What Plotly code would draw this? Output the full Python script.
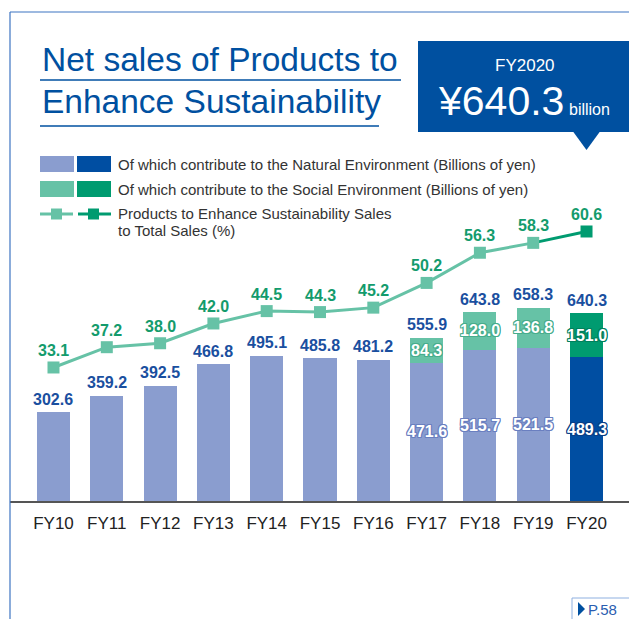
import plotly.graph_objects as go

# ---------------- data ----------------
years = ["FY10", "FY11", "FY12", "FY13", "FY14", "FY15", "FY16", "FY17", "FY18", "FY19", "FY20"]
natural = [302.6, 359.2, 392.5, 466.8, 495.1, 485.8, 481.2, 471.6, 515.7, 521.5, 489.3]
social = [None, None, None, None, None, None, None, 84.3, 128.0, 136.8, 151.0]
totals = [302.6, 359.2, 392.5, 466.8, 495.1, 485.8, 481.2, 555.9, 643.8, 658.3, 640.3]
pct = [33.1, 37.2, 38.0, 42.0, 44.5, 44.3, 45.2, 50.2, 56.3, 58.3, 60.6]

# ---------------- style ----------------
W, H = 629, 619
PL, PR, PT, PB = 10, 629, 140, 501
BLUE = "#0050a0"
NAT_L, NAT_D = "#8a9dcf", "#004ea2"
SOC_L, SOC_D = "#66c2a6", "#009b70"
LBL_BLUE = "#1a4f9f"
LBL_GREEN = "#139b6c"
FRAME = "#3d74c2"
SANS = "Liberation Sans, Arial, sans-serif"

n = len(years)
xs = list(range(n))
hl = n - 1  # highlighted (latest) year


def px(x):
    return (x - PL) / (PR - PL)


def py(y):
    return (PB - y) / (PB - PT)


def outline(c):
    return ", ".join(f"{a}px {b}px 0 {c}" for a in (-1, 0, 1) for b in (-1, 0, 1) if a or b)


fig = go.Figure()

fig.add_bar(x=xs, y=natural, width=0.62,
            marker=dict(color=[NAT_D if i == hl else NAT_L for i in xs], line_width=0),
            hoverinfo="skip")
fig.add_bar(x=xs, y=social, width=0.62,
            marker=dict(color=[SOC_D if i == hl else SOC_L for i in xs], line_width=0),
            hoverinfo="skip")

# percentage line
fig.add_scatter(x=xs[hl - 1:], y=pct[hl - 1:], yaxis="y2", mode="lines",
                line=dict(color=SOC_D, width=3), hoverinfo="skip")
fig.add_scatter(x=xs[:hl], y=pct[:hl], yaxis="y2", mode="lines+markers",
                line=dict(color=SOC_L, width=3),
                marker=dict(symbol="square", size=12, color=SOC_L), hoverinfo="skip")
fig.add_scatter(x=xs[hl:], y=pct[hl:], yaxis="y2", mode="markers",
                marker=dict(symbol="square", size=12, color=SOC_D), hoverinfo="skip")

ann = []
for i in xs:
    ann.append(dict(x=i, y=totals[i], xref="x", yref="y", yshift=13, showarrow=False,
                    text=f"{totals[i]:.1f}", font=dict(family=SANS, size=16, color=LBL_BLUE, weight="bold")))
    ann.append(dict(x=i, y=pct[i], xref="x", yref="y2", yshift=17, showarrow=False,
                    text=f"{pct[i]:.1f}", font=dict(family=SANS, size=16, color=LBL_GREEN, weight="bold")))
    if social[i] is not None:
        nc = "#0a3f86" if i == hl else "#6a7fc0"
        sc = "#00805c" if i == hl else "#47ad8c"
        ann.append(dict(x=i, y=natural[i] / 2, xref="x", yref="y", showarrow=False,
                        text=f"{natural[i]:.1f}",
                        font=dict(family=SANS, size=16, color="white", weight="bold", shadow=outline(nc))))
        ann.append(dict(x=i, y=natural[i] + social[i] / 2, xref="x", yref="y", showarrow=False,
                        text=f"{social[i]:.1f}",
                        font=dict(family=SANS, size=16, color="white", weight="bold", shadow=outline(sc))))

# title
ann.append(dict(x=px(40), y=py(60), xref="paper", yref="paper", xanchor="left", yanchor="middle",
                showarrow=False, text="Net sales of Products to", font=dict(family=SANS, size=33.5, color=BLUE)))
ann.append(dict(x=px(40), y=py(102), xref="paper", yref="paper", xanchor="left", yanchor="middle",
                showarrow=False, text="Enhance Sustainability", font=dict(family=SANS, size=33.5, color=BLUE)))

# highlight box texts
ann.append(dict(x=px(525), y=py(65), xref="paper", yref="paper", xanchor="center", yanchor="middle",
                showarrow=False, text="FY2020", font=dict(family=SANS, size=17, color="white")))
ann.append(dict(x=px(566), y=py(101), xref="paper", yref="paper", xanchor="right", yanchor="middle",
                showarrow=False, text="¥640.3", font=dict(family=SANS, size=41, color="white")))
ann.append(dict(x=px(567), y=py(110), xref="paper", yref="paper", xanchor="left", yanchor="middle",
                showarrow=False, text="billion", font=dict(family=SANS, size=16, color="white")))

# legend texts
leg_font = dict(family=SANS, size=15, color="#333333")
ann.append(dict(x=px(116), y=py(164), xref="paper", yref="paper", xanchor="left", yanchor="middle", showarrow=False,
                text="Of which contribute to the Natural Environment (Billions of yen)", font=leg_font))
ann.append(dict(x=px(116), y=py(189), xref="paper", yref="paper", xanchor="left", yanchor="middle", showarrow=False,
                text="Of which contribute to the Social Environment (Billions of yen)", font=leg_font))
ann.append(dict(x=px(116), y=py(213), xref="paper", yref="paper", xanchor="left", yanchor="middle", showarrow=False,
                text="Products to Enhance Sustainability Sales", font=leg_font))
ann.append(dict(x=px(116), y=py(230), xref="paper", yref="paper", xanchor="left", yanchor="middle", showarrow=False,
                text="to Total Sales (%)", font=leg_font))

# page reference
ann.append(dict(x=px(586), y=py(609), xref="paper", yref="paper", xanchor="left", yanchor="middle", showarrow=False,
                text="P.58", font=dict(family=SANS, size=15, color="#2a5db0")))


def rect(x0, y0, x1, y1, fill, line=None, lw=0):
    return dict(type="rect", xref="paper", yref="paper", x0=px(x0), x1=px(x1), y0=py(y0), y1=py(y1),
                fillcolor=fill, line=dict(color=line or fill, width=lw), layer="above")


def seg(x0, y0, x1, y1, color, w):
    return dict(type="line", xref="paper", yref="paper", x0=px(x0), x1=px(x1), y0=py(y0), y1=py(y1),
                line=dict(color=color, width=w), layer="above")


def tri(pts, color):
    path = "M " + " L ".join(f"{px(a)},{py(b)}" for a, b in pts) + " Z"
    return dict(type="path", xref="paper", yref="paper", path=path, fillcolor=color,
                line=dict(color=color, width=0), layer="above")


shapes = [
    seg(10, 12, 629, 12, FRAME, 1.2),
    seg(10, 12, 10, 619, FRAME, 1.2),
    seg(40, 80, 401, 80, BLUE, 1.5),
    seg(40, 126, 379, 126, BLUE, 1.5),
    rect(418, 41, 629, 132, BLUE),
    tri([(573, 131.5), (600, 131.5), (586.5, 150)], BLUE),
    rect(40, 156, 74, 172, NAT_L), rect(77, 156, 111, 172, NAT_D),
    rect(40, 181, 74, 197, SOC_L), rect(77, 181, 111, 197, SOC_D),
    seg(40, 214, 73, 214, SOC_L, 3), rect(51, 208.5, 62, 219.5, SOC_L),
    seg(78, 214, 111, 214, SOC_D, 3), rect(88, 208.5, 99, 219.5, SOC_D),
    rect(572, 598, 640, 630, "white", "#8fb0e0", 1),
    tri([(578, 602), (585, 609), (578, 616)], "#0050a0"),
]

fig.update_layout(
    width=W, height=H,
    margin=dict(l=PL, r=W - PR, t=PT, b=H - PB, pad=0),
    paper_bgcolor="white", plot_bgcolor="white",
    barmode="stack", bargap=0, showlegend=False,
    xaxis=dict(range=[-0.816, 10.797], tickvals=xs, ticktext=years, showgrid=False, zeroline=False,
               showline=True, linecolor="#555555", linewidth=2, ticks="", ticklabelstandoff=6,
               tickfont=dict(family=SANS, size=17, color="#222222"), fixedrange=True),
    yaxis=dict(range=[0, 1230], visible=False, fixedrange=True),
    yaxis2=dict(range=[6.1, 79.1], overlaying="y", visible=False, fixedrange=True),
    annotations=ann, shapes=shapes,
)

fig.write_html("out.html", config={"displayModeBar": False},
               post_script="document.body.style.margin='0px';document.body.style.overflow='hidden';")
